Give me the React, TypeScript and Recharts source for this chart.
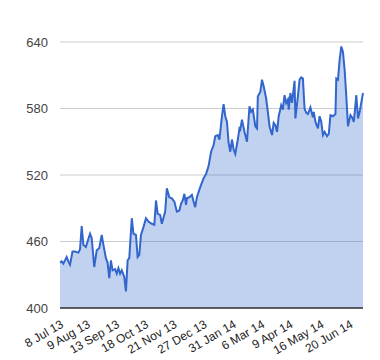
import { AreaChart, Area, XAxis, YAxis, CartesianGrid } from "recharts";

// day offsets from the first trading day (approx 6 Jul 13)
const days = [
  0, 2, 4, 6, 8, 10, 12, 15, 18, 22, 24, 26, 28, 31, 33, 36, 38, 41, 44, 47,
  50, 52, 55, 57, 59, 61, 63, 66, 68, 70, 72, 74, 77, 79, 81, 83, 86, 88, 91, 93,
  95, 97, 100, 103, 106, 110, 113, 115, 117, 120, 122, 126, 128, 131, 134, 137, 140, 143, 145, 147,
  149, 151, 152, 155, 158, 160, 162, 164, 168, 172, 175, 178, 181, 184, 186, 189, 191, 194, 196, 198,
  200, 202, 204, 206, 208, 210, 213, 215, 216, 218, 221, 224, 227, 229, 231, 234, 236, 237, 240, 242,
  244, 247, 249, 251, 254, 256, 258, 260, 262, 265, 267, 269, 271, 273, 274, 276, 278, 281, 282, 285,
  287, 289, 291, 293, 295, 297, 300, 302, 303, 304, 306, 309, 311, 313, 315, 317, 320, 322, 324, 327,
  330, 331, 333, 335, 337, 339, 341, 343, 345, 348, 350, 352, 355, 357, 359, 363,
];

const prices = [
  441, 442, 440, 443, 446, 442, 439, 451, 451, 450, 453, 474, 457, 455, 460, 467, 463, 437, 452, 454,
  466, 457, 445, 441, 427, 443, 434, 435, 431, 436, 431, 434, 428, 415, 443, 445, 481, 467, 466, 446,
  448, 466, 473, 481, 478, 476, 475, 497, 485, 484, 476, 487, 508, 500, 499, 496, 487, 488, 494, 497,
  503, 493, 499, 500, 502, 496, 491, 500, 509, 517, 521, 528, 541, 547, 555, 556, 552, 573, 584, 573,
  568, 549, 541, 552, 543, 539, 552, 562, 561, 570, 559, 550, 582, 577, 579, 564, 562, 591, 595, 606,
  600, 589, 577, 564, 556, 567, 565, 559, 573, 583, 579, 592, 585, 588, 579, 594, 585, 605, 571, 591,
  606, 608, 607, 580, 576, 575, 581, 575, 572, 577, 568, 562, 573, 568, 556, 559, 555, 557, 574, 573,
  575, 607, 606, 624, 636, 631, 615, 591, 564, 574, 572, 568, 592, 571, 577, 594,
];

const tickDays = [2, 34, 69, 104, 138, 174, 209, 243, 277, 314, 349];
const tickLabels = [
  "8 Jul 13", "9 Aug 13", "13 Sep 13", "18 Oct 13", "21 Nov 13", "27 Dec 13",
  "31 Jan 14", "6 Mar 14", "9 Apr 14", "16 May 14", "20 Jun 14",
];
const yTicks = [400, 460, 520, 580, 640];

const data = days.map((d, i) => ({ day: d, price: prices[i] }));

const FONT = "Arial, 'Liberation Sans', sans-serif";

function SlantTick({ x, y, payload }: { x?: number; y?: number; payload?: { value: number } }) {
  const idx = tickDays.indexOf(payload?.value ?? -1);
  const label = idx >= 0 ? tickLabels[idx] : "";
  const px = (x ?? 0) + 0.5;
  const py = 323;
  return (
    <text
      x={px}
      y={py}
      dy="0.35em"
      textAnchor="end"
      transform={`rotate(-30, ${px}, ${py})`}
      fontSize={12}
      fontFamily={FONT}
      fill="#222"
    >
      {label}
    </text>
  );
}

export default function App() {
  return (
    <div style={{ position: "absolute", left: 0, top: 0, background: "#fff" }}>
      <AreaChart
        width={380}
        height={360}
        data={data}
        margin={{ top: 42, right: 17, bottom: 12, left: 0 }}
      >
        <CartesianGrid stroke="#cccccc" vertical={false} />
        <XAxis
          dataKey="day"
          type="number"
          domain={[0, 363]}
          ticks={tickDays}
          interval={0}
          height={40}
          tick={<SlantTick />}
          tickLine={false}
          axisLine={{ stroke: "#333333", strokeWidth: 1.5 }}
        />
        <YAxis
          domain={[400, 640]}
          ticks={yTicks}
          width={60}
          tickLine={false}
          axisLine={false}
          tickMargin={6}
          tick={{ fill: "#444444", fontSize: 13, fontFamily: FONT }}
        />
        <Area
          type="linear"
          dataKey="price"
          stroke="#3366cc"
          strokeWidth={2}
          fill="#3366cc"
          fillOpacity={0.3}
          dot={false}
          activeDot={false}
          isAnimationActive={false}
        />
      </AreaChart>
    </div>
  );
}
